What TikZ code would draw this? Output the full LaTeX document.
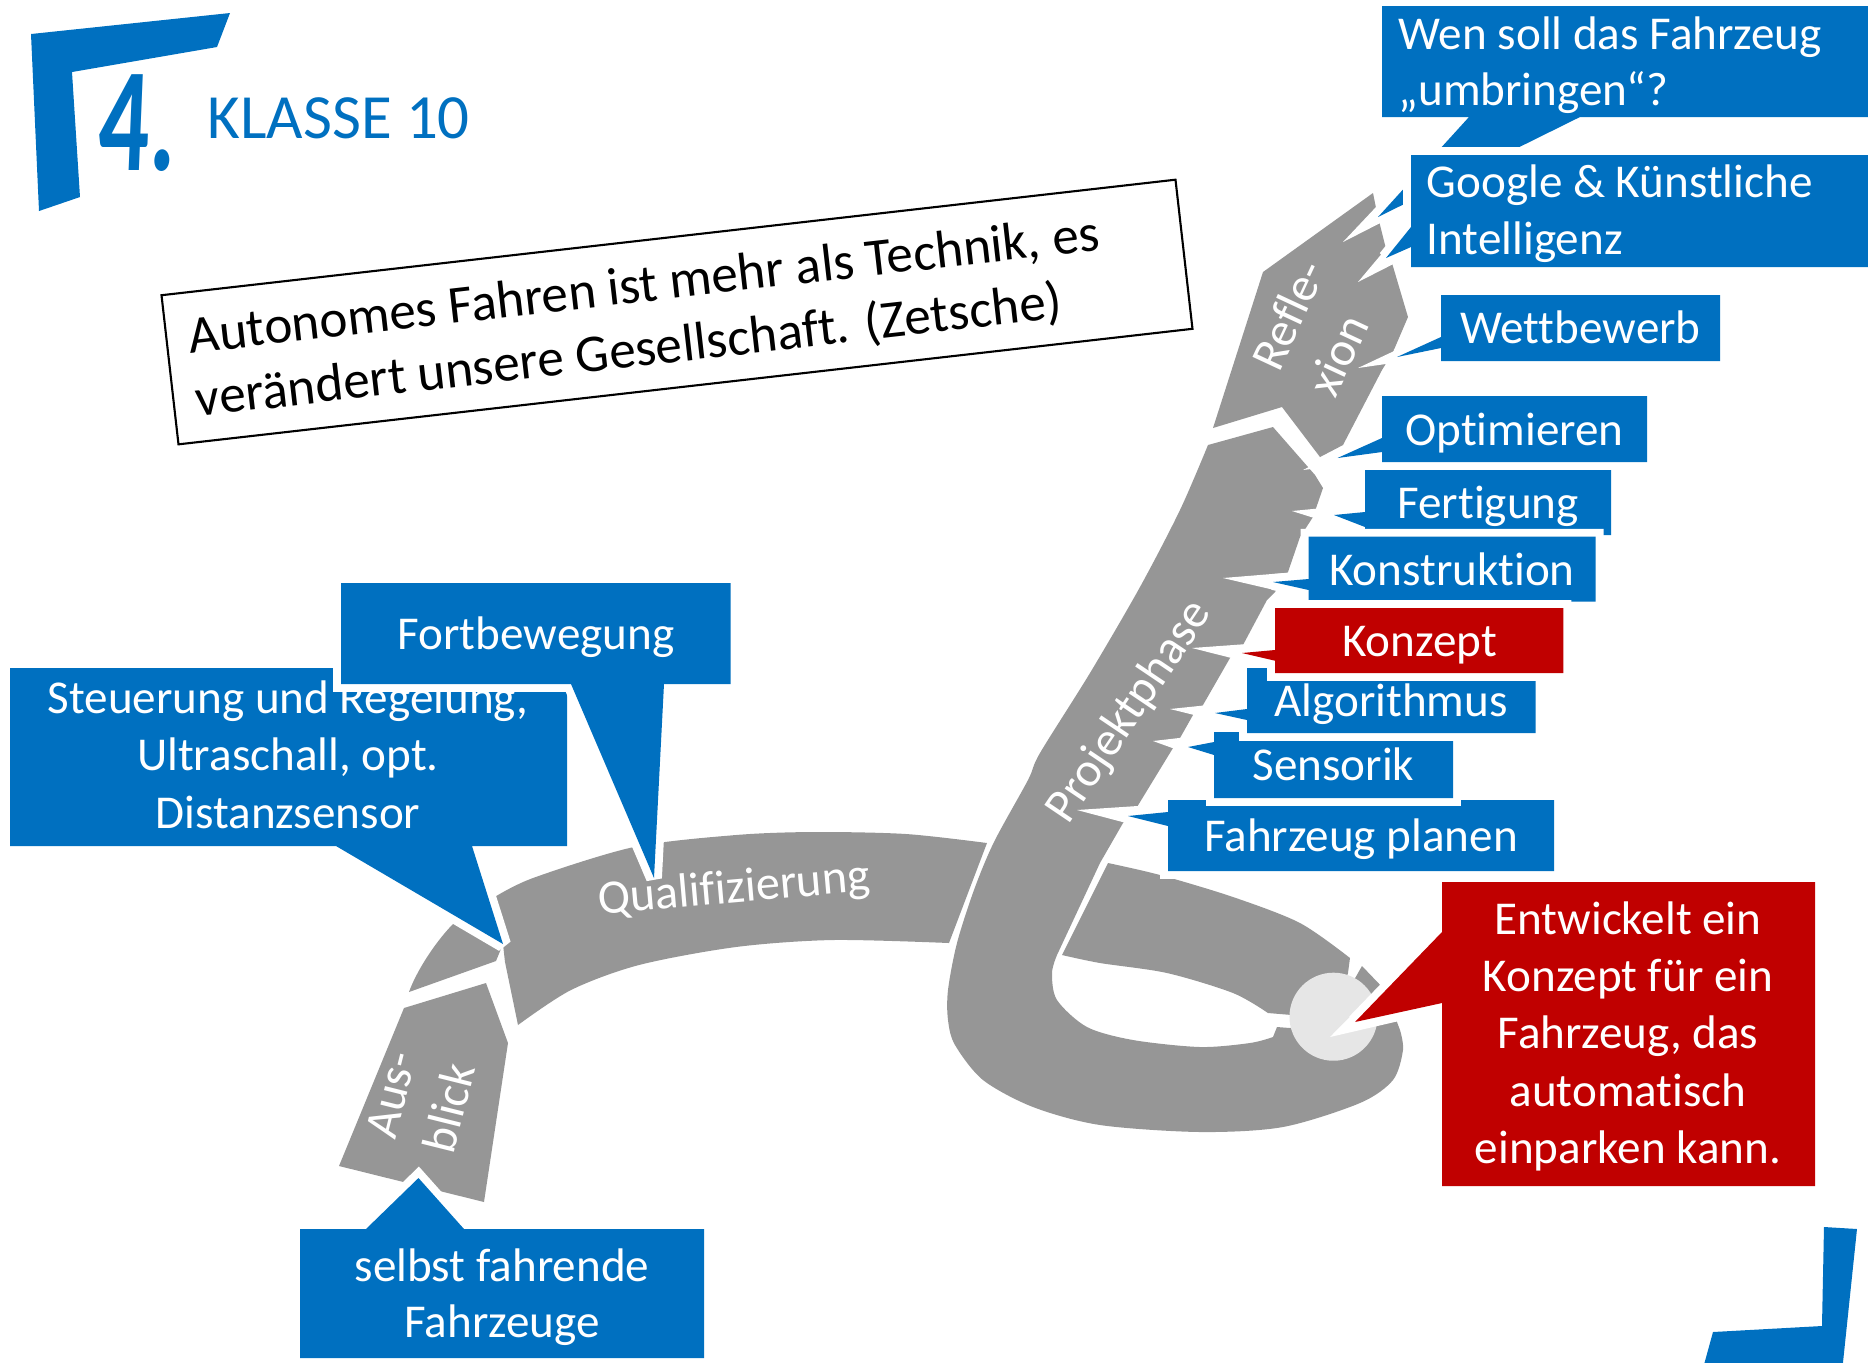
\documentclass[tikz,border=0pt]{standalone}
\usepackage{fontspec}
\setmainfont{Carlito}[Ligatures=NoCommon]
\definecolor{cblue}{HTML}{0070C0}
\definecolor{cred}{HTML}{C00000}
\definecolor{cgray}{HTML}{969696}
\definecolor{clight}{HTML}{E6E6E6}
\tikzset{
  callout/.style={fill=#1, preaction={draw=white, line width=4.5pt, line join=miter, miter limit=1.5}},
  lbl/.style={text=white, font=\fontsize{13.4}{16.2}\selectfont, inner sep=0pt, anchor=base},
  lbll/.style={lbl, anchor=base west},
  seglbl/.style={text=white, font=\fontsize{13.7}{17}\selectfont, inner sep=0pt},
  seg/.style={fill=cgray},
  notch/.style={fill=white},
  quotetxt/.style={anchor=base west, inner sep=0pt, font=\fontsize{15.1}{18}\selectfont, rotate=6.5}
}
\begin{document}
\begin{tikzpicture}[x=0.01cm,y=-0.01cm]
\useasboundingbox (0,0) rectangle (1868,1362);
% corner brackets
\fill[cblue] (31,34) -- (230,13) -- (217,47) -- (72,72) -- (80,197) -- (39,211) -- cycle;
\fill[cblue] (1824,1227) -- (1857,1229) -- (1842,1372) -- (1702,1372) -- (1713,1332) -- (1822,1326) -- cycle;
\node[anchor=base west, inner sep=0pt, text=cblue, font=\fontsize{42}{42}\selectfont\bfseries, xscale=0.68, xslant=0.06] (four) at (97,170) {4.};
\node[anchor=base west, inner sep=0pt, text=cblue, font=\fontsize{17.9}{20}\selectfont] (klasse) at (207,138) {KLASSE 10};
% quote
\node[draw=black, line width=0.6pt, fill=white, rotate=6.5, minimum width=10.2cm, minimum height=1.5cm, inner sep=0pt] (quote) at (677,312) {};
\node[quotetxt] (q1) at (190,353.6) {Autonomes Fahren ist mehr als Technik, es};
\node[quotetxt] (q2) at (197,416.7) {verändert unsere Gesellschaft. (Zetsche)};
% gray road segments
\fill[seg] (404,1008) -- (486,983) -- (508,1043) -- (484,1202) -- (339,1166) -- cycle;
\fill[seg] (409,992) .. controls (416,972) and (436,940) .. (457,920) -- (503,944) -- (496,961) -- cycle;
\fill[seg] plot[smooth] coordinates {(493,898)(533,878)(634,847)(736,835)(814,832)(906,834)(987,843)}
  -- plot[smooth] coordinates {(949,943)(833,940)(736,947)(639,965)(571,990)(518,1025)}
  -- (505,962) -- (503,944) -- cycle;
\fill[seg] plot[smooth] coordinates {(1208,445)(1180,510)(1140,587)(1090,673)(1040,753)(1028,780)(994,842)(974,890)(957,943)(948,990)(948,1020)(955,1045)(983,1080)(1033,1107)(1100,1125)(1200,1132)(1283,1127)(1360,1103)(1393,1080)(1403,1050)(1400,1030)}
  -- (1385,990) -- (1362,966) -- (1333,1017) -- (1290,1028) -- (1277,1027)
  -- plot[smooth] coordinates {(1273,1037)(1250,1043)(1200,1047)(1133,1040)(1087,1027)(1057,1000)(1052,973)(1057,955)}
  -- (1100,863) -- (1123,823) -- (1137,807) -- (1173,748) -- (1180,738) -- (1193,715) -- (1203,705)
  -- (1230,658) -- (1243,645) -- (1267,600) -- (1275,592) -- (1288,572) -- (1300,537) -- (1313,517)
  -- (1323,488) -- (1315,475) -- (1273,427) -- cycle;
\fill[seg] plot[smooth] coordinates {(1108,863)(1160,875)(1233,897)(1300,923)(1350,958)}
  -- (1348,973) -- (1333,1017) -- (1292,1015)
  -- plot[smooth] coordinates {(1268,1013)(1233,993)(1167,973)(1100,963)(1062,955)} -- cycle;
\fill[seg] (1213,428) -- (1263,272) -- (1373,193) -- (1376,208) -- (1380,225) -- (1385,245) -- (1392,263)
  -- (1408,317) -- (1393,352) -- (1382,370) -- (1343,445) -- (1320,457) -- (1282,407) -- cycle;
\fill[clight] (1333.5,1016.7) circle[radius=0.44cm];
% white notches cut by the pointers
\fill[notch] (1461,117) -- (1343,242) -- (1588,117) -- cycle;
\fill[notch] (1411,219) -- (1358,282) -- (1411,255) -- cycle;
\fill[notch] (1441,329) -- (1358,368) -- (1441,356) -- cycle;
\fill[notch] (1382,430) -- (1303,470) -- (1382,460) -- cycle;
\fill[notch] (1365,504) -- (1292,511) -- (1365,534) -- cycle;
\fill[notch] (1308.6,571) -- (1223,578) -- (1308.6,598) -- cycle;
\fill[notch] (1275,642) -- (1192,648) -- (1275,669) -- cycle;
\fill[notch] (1247,701) -- (1170,709) -- (1247,728) -- cycle;
\fill[notch] (1214,734) -- (1153,741) -- (1214,763) -- cycle;
\fill[notch] (1168,804) -- (1077,810) -- (1168,834) -- cycle;
\fill[notch] (1442,924) -- (1330,1037) -- (1442,1011) -- cycle;
% segment labels
\node[seglbl, rotate=5] (qual) at (734,890) {Qualifizierung};
\node[seglbl, rotate=56] (proj) at (1130,712) {Projektphase};
\node[seglbl, rotate=65, align=left, font=\fontsize{13.7}{17.6}\selectfont] (refl) at (1316,328) {Refle-\\xion};
\node[seglbl, rotate=76, align=left, font=\fontsize{13.7}{17.1}\selectfont] (ausb) at (420.6,1100.7) {Aus-\\blick};
% callouts left
\path[callout=cblue] (10,668) -- (567,668) -- (567,846) -- (472,846) -- (503,944) -- (336,846) -- (10,846) -- cycle;
\node[lbl] (st1) at (288,713.5) {Steuerung und Regelung,};
\node[lbl] (st2) at (288,770.7) {Ultraschall, opt.};
\node[lbl] (st3) at (288,828) {Distanzsensor};
\path[callout=cblue] (341,583) -- (730.5,583) -- (730.5,684) -- (664,684) -- (654,878) -- (571,684) -- (341,684) -- cycle;
\node[lbl] (fort) at (536,649.5) {Fortbewegung};
\path[callout=cblue] (300,1229) -- (366,1229) -- (418.5,1178) -- (464,1229) -- (704,1229) -- (704,1358) -- (300,1358) -- cycle;
\node[lbl] (sf1) at (502,1281) {selbst fahrende};
\node[lbl] (sf2) at (502,1337.5) {Fahrzeuge};
% callouts right
\path[callout=cblue] (1168,800) -- (1554,800) -- (1554,871) -- (1168,871) -- (1168,826) -- (1128,816) -- (1168,812) -- cycle;
\node[lbl] (fp) at (1361,851.7) {Fahrzeug planen};
\path[callout=cblue] (1214,732) -- (1453,732) -- (1453,798) -- (1214,798) -- (1214,755) -- (1188,747) -- (1214,742) -- cycle;
\node[lbl] (sens) at (1333.4,780) {Sensorik};
\path[callout=cblue] (1247,668) -- (1535.5,668) -- (1535.5,733) -- (1247,733) -- (1247,720) -- (1215,713) -- (1247,709) -- cycle;
\node[lbl] (algo) at (1391,716) {Algorithmus};
\path[callout=cblue] (1365,470) -- (1611,470) -- (1611,535) -- (1365,535) -- (1365,527) -- (1334,515) -- (1365,512) -- cycle;
\node[lbl] (fert) at (1488,518) {Fertigung};
\path[callout=cblue] (1308.6,536.7) -- (1595.6,536.7) -- (1595.6,601.7) -- (1308.6,601.7) -- (1308.6,590) -- (1273,582) -- (1308.6,579) -- cycle;
\node[lbl] (kons) at (1452,585) {Konstruktion};
\path[callout=cred] (1275,608) -- (1563.4,608) -- (1563.4,673) -- (1275,673) -- (1275,660.7) -- (1242,653) -- (1275,650) -- cycle;
\node[lbl] (konz) at (1419.5,656.7) {Konzept};
\path[callout=cblue] (1382,396) -- (1647,396) -- (1647,462) -- (1382,462) -- (1382,452) -- (1337.5,458) -- (1382,438) -- cycle;
\node[lbl] (opt) at (1514.5,445) {Optimieren};
\path[callout=cblue] (1441,295) -- (1720,295) -- (1720,361) -- (1441,361) -- (1441,348) -- (1397,357) -- (1441,337) -- cycle;
\node[lbl] (wett) at (1580.5,343) {Wettbewerb};
\path[callout=cblue] (1382,6) -- (1880,6) -- (1880,117) -- (1580,117) -- (1378,217) -- (1469,117) -- (1382,117) -- cycle;
\node[lbll] (wen1) at (1398,49.5) {Wen soll das Fahrzeug};
\node[lbll] (wen2) at (1398,105) {„umbringen“?};
\path[callout=cblue] (1411,155) -- (1880,155) -- (1880,267) -- (1411,267) -- (1411,247) -- (1386,258) -- (1411,227) -- cycle;
\node[lbll] (goo1) at (1426,197) {Google \& Künstliche};
\node[lbll] (goo2) at (1426,254) {Intelligenz};
\path[callout=cred] (1442,882) -- (1815,882) -- (1815,1186) -- (1442,1186) -- (1442,1003) -- (1355,1022) -- (1442,932) -- cycle;
\node[lbl] (ent1) at (1628,934.5) {Entwickelt ein};
\node[lbl] (ent2) at (1628,991.7) {Konzept für ein};
\node[lbl] (ent3) at (1628,1048.9) {Fahrzeug, das};
\node[lbl] (ent4) at (1628,1106.1) {automatisch};
\node[lbl] (ent5) at (1628,1163.3) {einparken kann.};
\end{tikzpicture}
\end{document}
